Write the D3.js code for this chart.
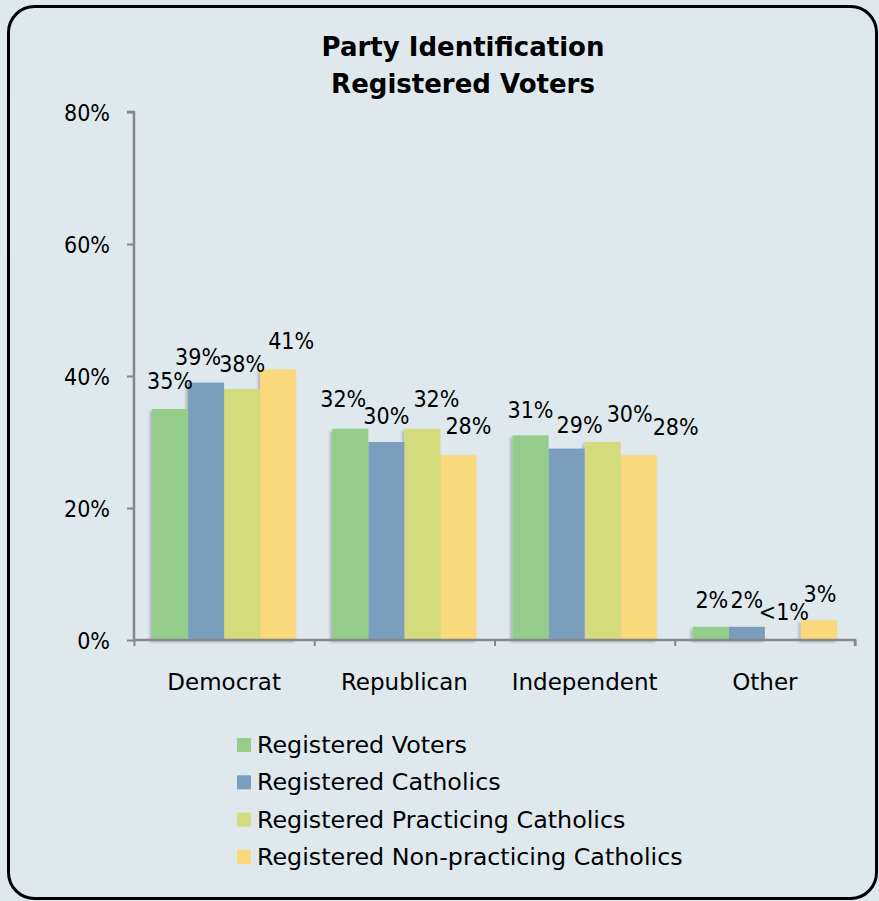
<!DOCTYPE html>
<html>
<head>
<meta charset="utf-8">
<script src="https://cdn.jsdelivr.net/npm/d3@7"></script>
<style>
  html, body { margin: 0; padding: 0; background: #DFE9ED; }
  svg { display: block; }
  text { fill: #000; }
  .num { font-family: "DejaVu Sans Condensed", "DejaVu Sans", sans-serif; font-stretch: condensed; }
  .wide { font-family: "DejaVu Sans", sans-serif; }
</style>
</head>
<body>
<svg id="chart" width="879" height="901"></svg>
<script>
// ---- data ----
const titleLines = ["Party Identification", "Registered Voters"];
const categories = ["Democrat", "Republican", "Independent", "Other"];
const seriesNames = [
  "Registered Voters",
  "Registered Catholics",
  "Registered Practicing Catholics",
  "Registered Non-practicing Catholics"
];
const registeredVoters = [35, 32, 31, 2];
const registeredCatholics = [39, 30, 29, 2];
const practicingCatholics = [38, 32, 30, 0];
const nonPracticingCatholics = [41, 28, 28, 3];
const votersLabels = ["35%", "32%", "31%", "2%"];
const catholicsLabels = ["39%", "30%", "29%", "2%"];
const practicingLabels = ["38%", "32%", "30%", "<1%"];
const nonPracticingLabels = ["41%", "28%", "28%", "3%"];
const yTicks = [0, 20, 40, 60, 80];

// ---- style / layout ----
const colors = ["#93CD89", "#7C9EBD", "#D4DB7D", "#FAD97B"];
// label nudges (Excel-placed labels), per category then series
const labelDx = [[0, -8, 0, 13], [-7, 0, 14, 10], [0, 13, 27, 37], [1, 0, 1, 1]];
const labelDy = [[-20, -18, -17, -20], [-22, -18, -22, -21], [-17, -16, -20, -20], [-19, -19, -20, -18]];

const seriesValues = [registeredVoters, registeredCatholics, practicingCatholics, nonPracticingCatholics];
const seriesLabels = [votersLabels, catholicsLabels, practicingLabels, nonPracticingLabels];

const svg = d3.select("#chart");

// background panel
svg.append("rect")
  .attr("x", 8.5).attr("y", 6.5)
  .attr("width", 868).attr("height", 892)
  .attr("rx", 26).attr("ry", 26)
  .attr("fill", "#DFE9ED")
  .attr("stroke", "#000").attr("stroke-width", 3);

const defs = svg.append("defs");
const f = defs.append("filter").attr("id", "shadow")
  .attr("x", "-30%").attr("y", "-10%").attr("width", "160%").attr("height", "130%");
f.append("feDropShadow").attr("dx", -2).attr("dy", 2).attr("stdDeviation", 1.6)
  .attr("flood-color", "#000").attr("flood-opacity", 0.25);

const plotLeft = 134, plotRight = 855, plotTop = 112, plotBottom = 640;

const x0 = d3.scaleBand().domain(categories).range([plotLeft, plotRight]).paddingInner(0.2).paddingOuter(0.1);
const x1 = d3.scaleBand().domain(d3.range(seriesNames.length)).range([0, x0.bandwidth()]);
const y = d3.scaleLinear().domain([0, 80]).range([plotBottom, plotTop]);

// title
svg.append("text")
  .attr("class", "wide")
  .attr("x", 463).attr("text-anchor", "middle")
  .style("font-size", "26px").style("font-weight", "bold")
  .selectAll("tspan").data(titleLines).join("tspan")
  .attr("x", 463)
  .attr("y", (d, i) => 56 + i * 37)
  .text(d => d);

// bars (draw last series first so shadows fall on background)
const barG = svg.append("g");
for (let s = seriesNames.length - 1; s >= 0; s--) {
  barG.append("g")
    .selectAll("rect")
    .data(categories.map((c, i) => ({ c, v: seriesValues[s][i] })))
    .join("rect")
    .attr("x", d => x0(d.c) + x1(s))
    .attr("y", d => y(d.v))
    .attr("width", x1.bandwidth())
    .attr("height", d => y(0) - y(d.v))
    .attr("fill", colors[s])
    .attr("filter", d => d.v > 0 ? "url(#shadow)" : null);
}

// axes
const axisColor = "#878787";
const yAxis = svg.append("g").attr("transform", `translate(${plotLeft},0)`)
  .call(d3.axisLeft(y).tickValues(yTicks).tickSize(7).tickPadding(17).tickFormat(d => d + "%"));
const xAxis = svg.append("g").attr("transform", `translate(0,${plotBottom})`)
  .call(d3.axisBottom(d3.scaleLinear().domain([0, categories.length]).range([plotLeft, plotRight]))
    .tickValues(d3.range(categories.length + 1)).tickSize(6).tickFormat(""));
[yAxis, xAxis].forEach(a => {
  a.select(".domain").attr("stroke", axisColor).attr("stroke-width", 2.5);
  a.selectAll(".tick line").attr("stroke", axisColor).attr("stroke-width", 2);
});
yAxis.select(".domain").attr("d", `M-7,${plotTop}H0V${plotBottom}`);
xAxis.select(".domain").attr("d", `M${plotLeft},0H${plotRight}V6`);
yAxis.attr("font-family", null);
yAxis.selectAll(".tick text").attr("class", "num").style("font-size", "23px").attr("fill", "#000").attr("dy", "0.36em");

// category labels
svg.append("g").selectAll("text").data(categories).join("text")
  .attr("class", "wide")
  .attr("x", d => x0(d) + x0.bandwidth() / 2)
  .attr("y", 690)
  .attr("text-anchor", "middle")
  .style("font-size", "23px")
  .text(d => d);

// value labels
const lblG = svg.append("g");
seriesNames.forEach((sn, s) => {
  lblG.append("g").selectAll("text")
    .data(categories.map((c, i) => ({ c, i, v: seriesValues[s][i], t: seriesLabels[s][i] })))
    .join("text")
    .attr("class", "num")
    .attr("x", d => x0(d.c) + x1(s) + x1.bandwidth() / 2 + labelDx[d.i][s])
    .attr("y", d => y(d.v) + labelDy[d.i][s])
    .attr("text-anchor", "middle")
    .style("font-size", "23px")
    .text(d => d.t);
});

// legend
const legend = svg.append("g").attr("transform", "translate(237,745)");
const items = legend.selectAll("g").data(seriesNames).join("g")
  .attr("transform", (d, i) => `translate(0,${i * 37.3})`);
items.append("rect").attr("x", 0).attr("y", -7).attr("width", 14).attr("height", 14)
  .attr("fill", (d, i) => colors[i]);
items.append("text").attr("class", "wide").attr("x", 20).attr("y", 8)
  .style("font-size", "23.8px").text(d => d);
</script>
</body>
</html>
